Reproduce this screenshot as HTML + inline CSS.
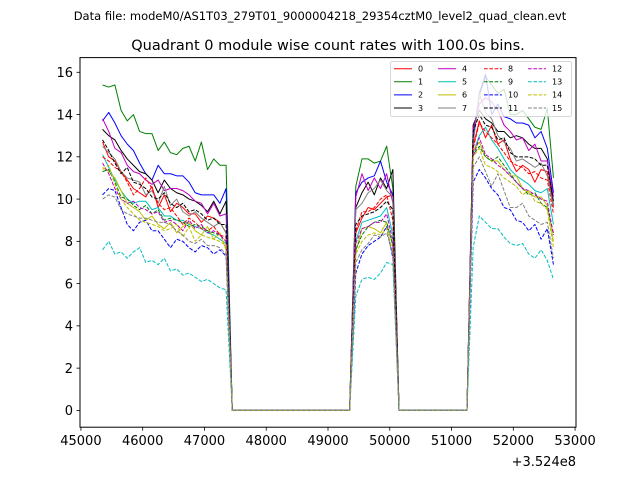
<!DOCTYPE html>
<html><head><meta charset="utf-8"><style>
body{margin:0;background:#fff;}
svg{display:block;font-family:"DejaVu Sans","Liberation Sans",sans-serif;}
</style></head><body>
<svg id="chart" width="640" height="480" viewBox="0 0 640 480">
<rect width="640" height="480" fill="#fff"/>
<text x="320" y="20" text-anchor="middle" font-size="11.5">Data file: modeM0/AS1T03_279T01_9000004218_29354cztM0_level2_quad_clean.evt</text>
<text x="328" y="50" text-anchor="middle" font-size="14.5">Quadrant 0 module wise count rates with 100.0s bins.</text>
<g id="plot"></g>
<rect x="80" y="57.6" width="496" height="369.6" fill="none" stroke="#000" stroke-width="1"/>
<g id="axes"></g>
<g id="legend"></g>
</svg>
<script>
const t0 = 45350, dt = 100;
const gapA = [0,0,0,0,0,0,0,0,0,0,0,0,0,0,0,0,0,0,0,0];
const gapB = [0,0,0,0,0,0,0,0,0,0,0,0];
const labels = ["0","1","2","3","4","5","6","7","8","9","10","11","12","13","14","15"];
const xTicks = [45000,46000,47000,48000,49000,50000,51000,52000,53000];
const yTicks = [0,2,4,6,8,10,12,14,16];
const s1 = [
[12.7,12.0,11.8,11.3,10.9,10.5,10.3,10.1,10.6,9.6,10.2,9.4,9.8,9.6,9.3,9.3,8.9,9.2,9.1,8.9,8.4],
[15.4,15.3,15.4,14.2,13.7,14.0,13.2,13.1,13.1,12.3,12.7,12.2,12.1,12.4,12.5,11.8,12.7,11.4,11.9,11.6,11.6],
[13.7,14.1,13.6,13.0,12.6,12.3,11.7,11.2,10.9,11.6,11.2,11.2,11.1,11.1,10.8,10.3,10.2,10.2,10.2,9.8,10.5],
[13.3,13.0,12.8,12.3,11.9,11.6,11.3,11.2,10.9,10.3,10.9,10.5,10.3,10.2,10.0,9.9,9.7,9.4,9.9,9.3,9.9],
[13.8,13.2,12.4,12.2,11.6,11.3,11.2,10.9,10.7,10.9,10.4,10.5,10.5,10.4,10.2,9.9,9.8,9.3,9.8,9.2,9.3],
[12.1,11.5,10.9,10.4,10.0,9.8,9.9,9.9,9.5,9.6,9.2,9.2,9.0,9.0,8.8,8.7,8.6,8.4,8.3,8.1,7.9],
[11.5,11.3,11.0,10.4,9.8,9.6,9.4,9.0,9.2,8.8,8.6,8.9,8.4,8.7,8.9,8.5,8.3,8.7,8.1,8.4,7.6],
[12.5,12.2,11.9,11.3,11.0,10.9,10.8,10.2,10.4,9.8,10.6,9.7,10.0,9.4,9.2,9.4,9.1,8.9,8.7,8.9,8.4],
[12.0,11.8,11.5,11.3,10.8,10.2,10.5,11.0,10.5,9.8,9.5,9.6,9.2,8.8,9.1,8.9,8.6,8.5,8.7,8.3,8.2],
[11.3,11.4,10.8,10.1,10.0,9.7,9.5,9.7,9.3,9.5,9.0,9.1,9.0,8.9,8.7,8.8,8.7,8.5,8.4,8.3,8.0],
[10.2,10.5,10.4,9.6,8.8,8.5,8.9,9.0,8.5,8.5,8.1,7.7,8.1,8.0,7.7,7.5,7.8,7.7,7.4,7.6,7.3],
[12.8,12.3,11.7,11.2,11.5,10.8,10.7,10.5,10.1,10.0,10.3,9.8,9.6,9.8,9.4,9.5,9.3,9.0,9.1,8.8,8.8],
[11.7,11.2,10.5,10.0,9.8,9.9,9.6,9.5,9.3,9.4,8.9,9.0,8.8,8.5,9.0,8.6,8.8,8.4,8.5,8.3,8.0],
[7.6,8.0,7.4,7.5,7.2,7.5,7.7,7.0,7.1,6.9,7.2,6.6,6.7,6.4,6.5,6.3,6.1,6.2,6.0,5.8,5.7],
[11.4,11.6,10.7,10.0,9.6,9.3,9.0,8.9,8.8,8.7,8.5,8.6,8.8,8.2,8.7,8.0,8.3,8.2,8.1,8.0,7.8],
[10.0,10.2,10.1,9.5,9.3,9.2,9.1,9.1,9.0,8.9,8.9,8.8,8.5,8.3,8.0,7.9,8.1,7.8,7.8,7.7,7.4]];
const s2 = [
[8.4,9.1,9.6,9.5,9.8,10.1,10.2],
[10.6,11.9,11.9,11.7,11.8,12.5,10.5],
[10.3,10.8,11.0,11.1,11.8,10.8,10.2],
[9.6,10.3,10.8,10.2,11.0,10.5,11.4],
[10.1,11.2,10.4,11.0,10.5,11.2,9.8],
[8.0,8.9,9.0,9.1,9.2,9.6,8.3],
[7.5,8.6,8.7,8.6,8.4,8.9,7.8],
[9.5,9.8,10.3,10.5,10.9,10.4,10.1],
[8.5,9.4,9.4,9.6,10.0,10.2,9.0],
[7.6,8.3,8.7,8.9,9.0,8.9,7.8],
[6.5,7.4,7.8,8.0,8.2,8.7,7.2],
[8.8,9.2,9.3,9.4,9.6,9.9,9.5],
[7.9,8.6,8.7,8.9,8.9,9.3,8.0],
[5.4,6.2,6.3,6.2,6.5,7.0,6.9],
[7.4,8.0,8.3,8.4,8.3,8.6,7.5],
[7.0,7.6,7.9,8.3,8.2,8.4,7.4]];
const s3 = [
[12.5,13.7,12.9,13.5,12.6,12.8,11.9,11.3,11.6,11.4,10.8,11.4,11.3,9.6],
[12.8,14.9,15.8,15.4,15.0,15.2,14.0,14.0,14.2,13.8,13.4,13.3,14.3,11.0],
[12.9,15.0,15.9,14.0,14.5,13.9,13.8,13.6,13.6,13.5,12.9,13.2,12.4,10.3],
[13.5,14.2,13.8,13.6,13.2,13.2,12.9,13.0,12.9,12.6,12.4,12.4,11.9,9.7],
[13.3,14.5,14.8,14.6,14.2,13.5,13.2,12.8,12.9,12.3,12.6,11.8,11.8,10.1],
[12.2,13.0,13.4,12.8,12.4,11.9,11.4,11.1,10.9,10.7,10.4,10.3,10.5,8.8],
[12.3,12.7,12.0,11.8,11.8,11.4,11.1,11.1,10.5,10.3,10.1,10.1,9.7,8.0],
[12.6,15.0,14.1,13.8,13.0,12.7,12.4,11.8,11.9,11.7,11.5,11.7,11.1,9.7],
[12.4,13.6,13.2,12.9,12.6,12.2,11.8,11.6,11.5,11.2,11.3,11.0,10.9,9.3],
[12.1,12.5,12.0,11.8,12.0,11.6,11.2,10.8,10.5,10.2,10.3,9.8,9.6,8.4],
[10.8,11.4,11.0,10.5,10.2,9.6,9.5,9.0,8.9,8.5,8.8,8.1,8.6,6.9],
[13.2,14.0,13.5,13.4,12.8,12.9,12.2,12.0,12.0,12.0,11.9,11.6,11.6,9.9],
[12.0,12.9,12.1,11.9,11.6,11.4,11.1,10.8,10.5,10.4,10.2,10.0,9.9,8.3],
[7.7,9.2,8.9,8.6,8.6,8.2,7.9,7.8,7.9,7.4,7.2,7.6,7.1,6.2],
[12.0,12.4,11.6,11.5,11.3,11.0,10.8,10.6,10.2,10.4,9.9,9.8,9.5,7.7],
[11.5,12.0,11.3,10.6,11.2,10.4,9.6,9.6,9.8,9.2,9.0,8.8,8.9,7.2]];

const colors = ["#ff0000","#008000","#0000ff","#000000","#bf00bf","#00bfbf","#bfbf00","#808080"];
const NS = "http://www.w3.org/2000/svg";
const X0 = 80, X1 = 576, Y0 = 427.2, Y1 = 57.6;
const xmin = 44985, xmax = 53015, ymin = -0.795, ymax = 16.695;
function xs(t){ return X0 + (t - xmin) / (xmax - xmin) * (X1 - X0); }
function ys(v){ return Y0 - (v - ymin) / (ymax - ymin) * (Y0 - Y1); }
function mk(tag, attrs, parent){ const e = document.createElementNS(NS, tag); for (const k in attrs) e.setAttribute(k, attrs[k]); parent.appendChild(e); return e; }

const plot = document.getElementById("plot");
for (let i = 0; i < 16; i++) {
  const vals = s1[i].concat(gapA, s2[i], gapB, s3[i]);
  const pts = vals.map((v, j) => xs(t0 + j * dt).toFixed(2) + "," + ys(v).toFixed(2)).join(" ");
  const pl = mk("polyline", {points: pts, fill: "none", stroke: colors[i % 8], "stroke-width": 1, "stroke-linejoin": "round"}, plot);
  if (i >= 8) pl.setAttribute("stroke-dasharray", "3.7,1.6");
  
  
}

const axes = document.getElementById("axes");
xTicks.forEach(t => {
  const x = xs(t);
  const tk = mk("line", {x1: x, x2: x, y1: Y0, y2: Y0 + 3.5, stroke: "#000", "stroke-width": 0.8}, axes);
  
  
  const tx = mk("text", {x: x, y: Y0 + 18, "text-anchor": "middle", "font-size": 13}, axes);
  tx.textContent = t;
  
  
});
yTicks.forEach(v => {
  const y = ys(v);
  const tk = mk("line", {x1: X0 - 3.5, x2: X0, y1: y, y2: y, stroke: "#000", "stroke-width": 0.8}, axes);
  
  
  const tx = mk("text", {x: X0 - 7, y: y + 4.7, "text-anchor": "end", "font-size": 13}, axes);
  tx.textContent = v;
  
  
});
const off = mk("text", {x: 576, y: 466, "text-anchor": "end", "font-size": 13}, axes);
off.textContent = "+3.524e8";



const lg = document.getElementById("legend");
const box = mk("rect", {x: 390.5, y: 61.5, width: 181, height: 55, rx: 2, fill: "#fff", "fill-opacity": 0.8, stroke: "#ccc", "stroke-width": 0.8}, lg);


const colX = [394, 438, 484, 528];
for (let i = 0; i < 16; i++) {
  const c = Math.floor(i / 4), r = i % 4;
  const y = 68.7 + r * 13.1;
  const ln = mk("line", {x1: colX[c], x2: colX[c] + 18, y1: y, y2: y, stroke: colors[i % 8], "stroke-width": 1}, lg);
  if (i >= 8) ln.setAttribute("stroke-dasharray", "3.7,1.6");
  
  
  const tx = mk("text", {x: colX[c] + 24, y: y + 2.8, "font-size": 8}, lg);
  tx.textContent = labels[i];
  
  
}
</script>
</body></html>
